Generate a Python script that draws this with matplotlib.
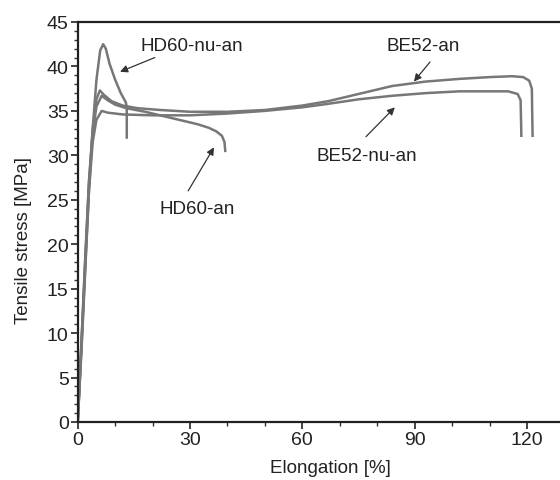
import matplotlib
matplotlib.use("Agg")
import matplotlib.pyplot as plt
from matplotlib.ticker import MultipleLocator

plt.rcParams['font.family'] = ['Liberation Sans', 'DejaVu Sans']

# stress-strain curves, elongation [%] vs tensile stress [MPa]
hd60_nu_an_x = [0, 1, 2, 3, 4, 5, 6, 6.8, 7.5, 8.5, 10, 11.5, 12.8, 13.1, 13.1]
hd60_nu_an_y = [0, 8, 17, 26, 33, 38.5, 41.8, 42.5, 42.0, 40.3, 38.5, 37.0, 36.0, 35.5, 32.0]

hd60_an_x = [0, 1, 2, 3, 4, 5, 6.4, 8, 10, 13, 18, 22, 27, 32, 35, 37, 38.5, 39.2, 39.4]
hd60_an_y = [0, 9, 18, 27, 32.5, 35.5, 36.7, 36.2, 35.7, 35.3, 34.9, 34.5, 34.0, 33.5, 33.1, 32.7, 32.2, 31.5, 30.5]

be52_an_x = [0, 1, 2, 3, 4, 5, 5.9, 7, 9, 12, 16, 22, 30, 40, 50, 60, 67, 75, 84, 93, 102,
             110, 116, 119, 120.6, 121.3, 121.5]
be52_an_y = [0, 9, 18.5, 27, 33, 36.3, 37.3, 36.8, 36.1, 35.6, 35.3, 35.1, 34.9, 34.9, 35.1, 35.6,
             36.1, 36.9, 37.8, 38.3, 38.6, 38.8, 38.9, 38.8, 38.4, 37.5, 32.2]

be52_nu_an_x = [0, 1, 2, 3, 4, 5, 6.4, 8, 12, 20, 30, 40, 50, 60, 67, 75, 84, 93, 102, 110,
                115, 117.5, 118.3, 118.5]
be52_nu_an_y = [0, 8.5, 17.5, 26, 31.5, 34, 35, 34.8, 34.6, 34.5, 34.5, 34.7, 35.0, 35.4, 35.8,
                36.3, 36.7, 37.0, 37.2, 37.2, 37.2, 36.9, 36.2, 32.2]

# label text, text position, arrow tail and head
labels = ['HD60-nu-an', 'BE52-an', 'BE52-nu-an', 'HD60-an']
label_xy = [(30.5, 42.3), (92.2, 42.3), (77.2, 30.0), (31.8, 24.0)]
arrow_tail = [(20.6, 41.0), (94.1, 40.5), (77.0, 32.1), (29.5, 26.0)]
arrow_head = [(11.3, 39.4), (89.8, 38.3), (84.7, 35.4), (36.4, 30.9)]

fig = plt.figure(figsize=(5.6, 4.81), dpi=100)
ax = fig.add_axes([0.1388, 0.1206, 0.9025, 0.8316])

line_col = '#777777'
for xs, ys in [(hd60_nu_an_x, hd60_nu_an_y), (hd60_an_x, hd60_an_y),
               (be52_an_x, be52_an_y), (be52_nu_an_x, be52_nu_an_y)]:
    ax.plot(xs, ys, color=line_col, lw=1.8, solid_joinstyle='round')

for txt, pos, tail, head in zip(labels, label_xy, arrow_tail, arrow_head):
    ax.text(pos[0], pos[1], txt, ha='center', va='center', fontsize=13.5, color='#222222')
    ax.annotate('', xy=head, xytext=tail,
                arrowprops=dict(arrowstyle='-|>', color='#333333', lw=0.9,
                                mutation_scale=11, shrinkA=0, shrinkB=0))

ax.set_xlim(0, 135)
ax.set_ylim(0, 45)
ax.xaxis.set_major_locator(MultipleLocator(30))
ax.xaxis.set_minor_locator(MultipleLocator(10))
ax.yaxis.set_major_locator(MultipleLocator(5))
ax.yaxis.set_minor_locator(MultipleLocator(1))
ax.tick_params(which='major', length=5, width=1.2, labelsize=14, colors='#222222', pad=1.5)
ax.tick_params(which='minor', length=3, width=1.0, colors='#333333')

for side in ['left', 'bottom', 'top']:
    ax.spines[side].set_linewidth(1.6)
    ax.spines[side].set_color('#222222')
ax.spines['right'].set_visible(False)

ax.set_xlabel('Elongation [%]', fontsize=13.5, color='#222222', labelpad=8)
ax.set_ylabel('Tensile stress [MPa]', fontsize=13.5, color='#222222')
ax.yaxis.set_label_coords(-0.09, 0.457)

fig.savefig('out.png', dpi=100)
